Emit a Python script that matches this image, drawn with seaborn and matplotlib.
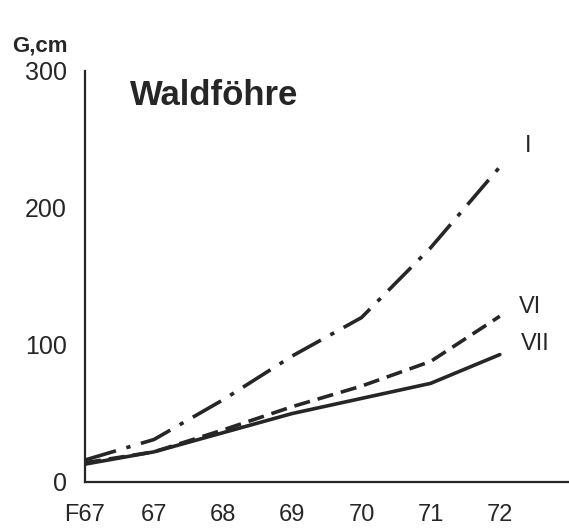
import matplotlib
matplotlib.use("Agg")
import matplotlib.pyplot as plt
import seaborn as sns
import pandas as pd

categories = ["F67", "67", "68", "69", "70", "71", "72"]
series_I = [16, 31, 60, 92, 120, 171, 230]
series_VI = [14, 22, 38, 55, 70, 88, 121]
series_VII = [13, 22, 36, 50, 61, 72, 93]
y_ticks = [0, 100, 200, 300]

sns.set_theme(style="white")
plt.rcParams['font.family'] = ['Liberation Sans', 'DejaVu Sans']

ink = "#262626"
fig = plt.figure(figsize=(5.69, 5.31), dpi=100)
ax = fig.add_axes([0.149, 0.0923, 0.851, 0.774])

pos = list(range(len(categories)))
df = pd.DataFrame({"x": pos * 3,
                   "y": series_I + series_VI + series_VII,
                   "s": ["I"] * 7 + ["VI"] * 7 + ["VII"] * 7})

styles = {"I": (0, (9, 3, 1.2, 3)), "VI": (0, (4.5, 2.2)), "VII": "solid"}
for name, ls in styles.items():
    sub = df[df.s == name]
    sns.lineplot(data=sub, x="x", y="y", ax=ax, color=ink, lw=2.6,
                 linestyle=ls, legend=False)

ax.set_xlim(0, 7)
ax.set_ylim(0, 300)
ax.set_xticks(pos)
ax.set_xticklabels(categories)
ax.set_yticks(y_ticks)
ax.set_xlabel("")
ax.set_ylabel("")
for s in ["top", "right"]:
    ax.spines[s].set_visible(False)
for s in ["left", "bottom"]:
    ax.spines[s].set_color(ink)
    ax.spines[s].set_linewidth(1.6)
ax.tick_params(axis="both", direction="out", length=7, width=1.6, colors=ink,
               labelsize=18, labelcolor=ink)
ax.tick_params(axis="x", pad=9, labelsize=17)
ax.tick_params(axis="y", pad=6)
ax.spines["bottom"].set_bounds(0, 7)

fig.text(0.021, 0.913, "G,cm", ha="left", va="center",
         fontsize=16, color=ink, fontweight="bold")
fig.text(0.228, 0.82, "Waldföhre", ha="left", va="center", fontsize=25,
         fontweight="bold", color=ink)

ax.text(6.41, 245, "I", ha="center", va="center", fontsize=17, color=ink)
ax.text(6.44, 128, "VI", ha="center", va="center", fontsize=17, color=ink)
ax.text(6.51, 101, "VII", ha="center", va="center", fontsize=17, color=ink)

fig.savefig("out.png", dpi=100)
